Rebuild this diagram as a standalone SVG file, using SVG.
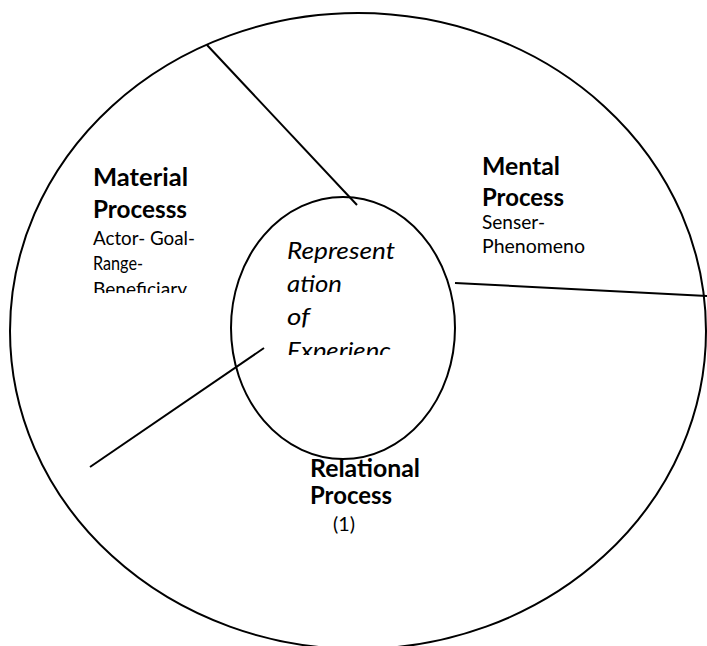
<svg xmlns="http://www.w3.org/2000/svg" width="707" height="646" viewBox="0 0 707 646">
<style>
.b{font-family:Lato,"Liberation Sans",sans-serif;font-weight:bold;font-size:24.5px;fill:#000}
.r{font-family:Lato,"Liberation Sans",sans-serif;font-size:19.5px;fill:#000}
.i{font-family:Lato,"Liberation Sans",sans-serif;font-style:italic;font-size:24px;fill:#000}
.ln{stroke:#000;stroke-width:2;fill:none}
</style>
<defs>
<clipPath id="clipMat"><rect x="80" y="140" width="160" height="153"/></clipPath>
<clipPath id="clipRep"><rect x="280" y="230" width="140" height="125"/></clipPath>
</defs>
<rect width="707" height="646" fill="#fff"/>
<g id="outer"><ellipse class="ln" cx="358" cy="331" rx="348" ry="318"/></g>
<g id="connectors">
<line class="ln" x1="207" y1="45" x2="357" y2="205"/>
<line class="ln" x1="455" y1="283" x2="707" y2="296"/>
<line class="ln" x1="90" y1="467" x2="264" y2="348"/>
</g>
<g id="center"><ellipse class="ln" cx="343" cy="328" rx="112" ry="131"/>
<g clip-path="url(#clipRep)">
<text class="i" x="287" y="259" textLength="108" lengthAdjust="spacingAndGlyphs">Represent</text>
<text class="i" x="287" y="292" textLength="55" lengthAdjust="spacingAndGlyphs">ation</text>
<text class="i" x="287" y="325" textLength="23" lengthAdjust="spacingAndGlyphs">of</text>
<text class="i" x="287" y="359" textLength="104" lengthAdjust="spacingAndGlyphs">Experienc</text>
</g></g>
<g id="material" clip-path="url(#clipMat)">
<text class="b" x="93" y="186" textLength="95" lengthAdjust="spacingAndGlyphs">Material</text>
<text class="b" x="93" y="218" textLength="94" lengthAdjust="spacingAndGlyphs">Processs</text>
<text class="r" x="93" y="245" textLength="102" lengthAdjust="spacingAndGlyphs">Actor- Goal-</text>
<text class="r" x="93" y="270" textLength="50" lengthAdjust="spacingAndGlyphs">Range-</text>
<text class="r" x="93" y="296" textLength="94" lengthAdjust="spacingAndGlyphs">Beneficiary</text>
</g>
<g id="mental">
<text class="b" x="482" y="175" textLength="78" lengthAdjust="spacingAndGlyphs">Mental</text>
<text class="b" x="482" y="206" textLength="82" lengthAdjust="spacingAndGlyphs">Process</text>
<text class="r" x="482" y="229" textLength="63" lengthAdjust="spacingAndGlyphs">Senser-</text>
<text class="r" x="482" y="253" textLength="103" lengthAdjust="spacingAndGlyphs">Phenomeno</text>
</g>
<g id="relational">
<text class="b" x="310" y="477" textLength="110" lengthAdjust="spacingAndGlyphs">Relational</text>
<text class="b" x="310" y="504" textLength="82" lengthAdjust="spacingAndGlyphs">Process</text>
<text class="r" x="333" y="531" textLength="22" lengthAdjust="spacingAndGlyphs">(1)</text>
</g>
</svg>
